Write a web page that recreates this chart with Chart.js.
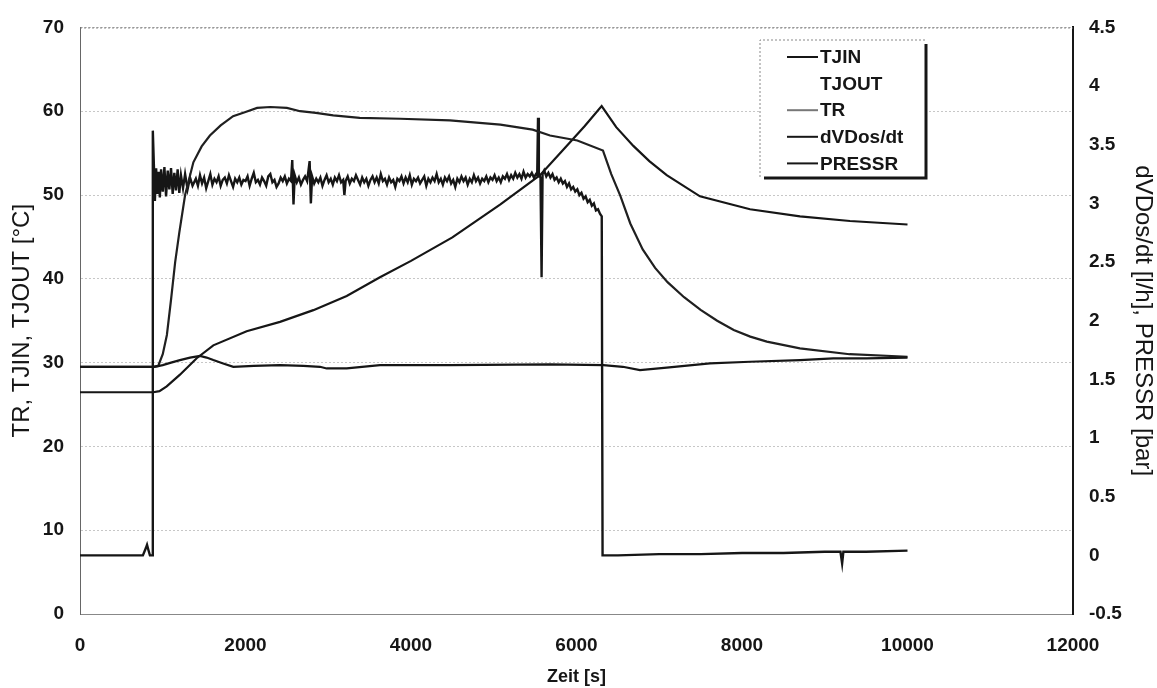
<!DOCTYPE html>
<html>
<head>
<meta charset="utf-8">
<script src="https://cdn.jsdelivr.net/npm/chart.js@4.4.1/dist/chart.umd.min.js"></script>
<style>
    html, body { margin: 0; padding: 0; background: #fff; }
    #chart-body { display: block; }
</style>
</head>
<body>
<canvas id="chart-body" width="1157" height="688"></canvas>
<script>
// Zeitachse in s, Temperaturen in °C, Dosierrate in l/h, Druck in bar

const tjinTime = [0, 900, 1000, 1100, 1208, 1330, 1450, 1530, 1611, 1730, 1853, 2100, 2417, 2700, 2900, 2981, 3223, 3625,
    4471, 5680, 6324, 6560, 6767, 7090, 7613, 8097, 8701, 9103, 9500, 10000];
const tjinValues = [29.5, 29.5, 29.7, 30.0, 30.3, 30.6, 30.8, 30.6, 30.3, 29.9, 29.5, 29.6, 29.7, 29.6, 29.5, 29.3, 29.3, 29.7,
    29.7, 29.8, 29.7, 29.5, 29.1, 29.4, 29.9, 30.1, 30.3, 30.5, 30.5, 30.6];

// TJOUT wurde nicht aufgezeichnet
const tjoutTime = [];
const tjoutValues = [];

const trTime = [0, 880, 945, 1000, 1050, 1100, 1150, 1200, 1270, 1370, 1470, 1570, 1700, 1850, 2000, 2140, 2300, 2500,
    2660, 2850, 3060, 3380, 3870, 4470, 5080, 5470, 5680, 6010, 6320, 6420, 6530, 6650, 6800, 6950, 7100, 7300, 7500,
    7700, 7900, 8100, 8300, 8700, 9300, 10000];
const trValues = [29.5, 29.5, 29.6, 31.0, 33.3, 37.5, 42.0, 45.5, 50.0, 53.9, 55.8, 57.1, 58.3, 59.4, 59.9, 60.4, 60.5, 60.4,
    60.0, 59.8, 59.5, 59.2, 59.1, 58.9, 58.4, 57.8, 57.1, 56.5, 55.3, 52.5, 49.9, 46.6, 43.5, 41.3, 39.6, 37.8, 36.3,
    35.0, 33.9, 33.1, 32.5, 31.7, 31.0, 30.7];

const dosTime = [
    0, 760, 795, 810, 825, 845, 872, 880, 895, 905,
    920, 935, 950, 965, 980, 1000, 1020, 1040, 1060, 1080,
    1100, 1120, 1140, 1160, 1180, 1200, 1220, 1245, 1270, 1300,
    1330, 1360, 1400, 1425, 1450, 1475, 1500, 1525, 1550, 1575,
    1600, 1625, 1650, 1675, 1700, 1725, 1750, 1775, 1800, 1825,
    1850, 1875, 1900, 1925, 1950, 1975, 2000, 2025, 2050, 2075,
    2100, 2125, 2150, 2175, 2200, 2225, 2250, 2275, 2300, 2325,
    2350, 2375, 2400, 2425, 2450, 2475, 2500, 2525, 2550, 2565,
    2580, 2595, 2620, 2645, 2670, 2695, 2720, 2745, 2775, 2790,
    2805, 2830, 2855, 2880, 2905, 2930, 2955, 2980, 3005, 3030,
    3055, 3080, 3105, 3130, 3155, 3180, 3195, 3210, 3235, 3260,
    3285, 3310, 3335, 3360, 3385, 3410, 3435, 3460, 3485, 3510,
    3535, 3560, 3585, 3610, 3635, 3660, 3685, 3710, 3735, 3760,
    3785, 3810, 3835, 3860, 3885, 3910, 3935, 3960, 3985, 4010,
    4035, 4060, 4085, 4110, 4135, 4160, 4185, 4210, 4235, 4260,
    4285, 4310, 4335, 4360, 4385, 4410, 4435, 4460, 4485, 4510,
    4535, 4560, 4585, 4610, 4635, 4660, 4685, 4710, 4735, 4760,
    4785, 4810, 4835, 4860, 4885, 4910, 4935, 4960, 4985, 5010,
    5035, 5060, 5085, 5110, 5135, 5160, 5185, 5210, 5235, 5260,
    5285, 5310, 5335, 5360, 5385, 5410, 5435, 5460, 5485, 5510,
    5525, 5535, 5545, 5565, 5578, 5590, 5610, 5635, 5660, 5685,
    5710, 5735, 5760, 5785, 5810, 5835, 5860, 5885, 5910, 5935,
    5960, 5985, 6010, 6035, 6060, 6085, 6110, 6135, 6160, 6185,
    6210, 6235, 6260, 6285, 6305, 6315, 6500, 7000, 7500, 8000,
    8500, 9000, 9190, 9210, 9225, 9500, 10000];
const dosRate = [
    0.00, 0.00, 0.06, 0.09, 0.05, 0.00, 0.00, 3.62, 3.28, 3.02,
    3.30, 3.08, 3.27, 3.05, 3.29, 3.10, 3.31, 3.06, 3.28, 3.12,
    3.30, 3.08, 3.26, 3.11, 3.29, 3.09, 3.24, 3.13, 3.25, 3.12,
    3.22, 3.15, 3.21, 3.15, 3.24, 3.17, 3.22, 3.13, 3.19, 3.25,
    3.16, 3.21, 3.18, 3.23, 3.15, 3.20, 3.22, 3.17, 3.24, 3.19,
    3.14, 3.21, 3.18, 3.22, 3.16, 3.20, 3.19, 3.23, 3.15, 3.21,
    3.26, 3.18, 3.20, 3.16, 3.22, 3.19, 3.15, 3.23, 3.25, 3.18,
    3.20, 3.14, 3.17, 3.22, 3.19, 3.23, 3.17, 3.21, 3.19, 3.37,
    2.99, 3.24, 3.18, 3.22, 3.16, 3.20, 3.23, 3.19, 3.36, 3.00,
    3.23, 3.17, 3.21, 3.18, 3.22, 3.15, 3.20, 3.24, 3.18, 3.21,
    3.16, 3.22, 3.19, 3.24, 3.18, 3.20, 3.07, 3.19, 3.23, 3.17,
    3.21, 3.19, 3.24, 3.20, 3.16, 3.22, 3.18, 3.21, 3.15, 3.20,
    3.23, 3.18, 3.22, 3.17, 3.25, 3.19, 3.21, 3.16, 3.22, 3.18,
    3.20, 3.14, 3.21, 3.19, 3.23, 3.17, 3.22, 3.18, 3.24, 3.16,
    3.21, 3.19, 3.22, 3.17, 3.20, 3.23, 3.15, 3.21, 3.18, 3.22,
    3.19, 3.25, 3.18, 3.21, 3.16, 3.22, 3.19, 3.23, 3.17, 3.20,
    3.14, 3.21, 3.18, 3.23, 3.19, 3.22, 3.16, 3.21, 3.18, 3.24,
    3.19, 3.22, 3.17, 3.21, 3.19, 3.23, 3.18, 3.22, 3.20, 3.24,
    3.19, 3.22, 3.18, 3.23, 3.21, 3.25, 3.20, 3.24, 3.21, 3.26,
    3.22, 3.25, 3.21, 3.27, 3.22, 3.25, 3.23, 3.26, 3.22, 3.25,
    3.24, 3.73, 3.24, 3.22, 2.37, 3.25, 3.28, 3.23, 3.26, 3.22,
    3.25, 3.20, 3.22, 3.18, 3.21, 3.17, 3.19, 3.14, 3.17, 3.12,
    3.14, 3.10, 3.12, 3.07, 3.09, 3.04, 3.06, 3.01, 3.03, 2.98,
    3.00, 2.94, 2.95, 2.91, 2.89, 0.00, 0.00, 0.01, 0.01, 0.02,
    0.02, 0.03, 0.03, -0.07, 0.03, 0.03, 0.04];

const pressTime = [0, 886, 960, 1048, 1208, 1410, 1611, 2014, 2417, 2820, 3223, 3625, 4000, 4500, 5076, 5559, 5881, 6100,
    6304, 6480, 6687, 6880, 7090, 7492, 8097, 8701, 9305, 10000];
const pressValues = [1.39, 1.39, 1.40, 1.44, 1.54, 1.68, 1.79, 1.91, 1.99, 2.09, 2.21, 2.37, 2.51, 2.71, 2.99, 3.24, 3.49,
    3.66, 3.83, 3.65, 3.49, 3.36, 3.24, 3.06, 2.95, 2.89, 2.85, 2.82];

const xTicks = { min: 0, max: 12000, step: 2000 };
const leftTicks = { min: 0, max: 70, step: 10 };
const rightTicks = { min: -0.5, max: 4.5, step: 0.5 };

const FONT = "'Liberation Sans', Arial, sans-serif";
const INK = '#161616';

function toPoints(times, values) {
    return times.map((t, i) => ({ x: t, y: values[i] }));
}

function plainNumber(value) {
    return String(parseFloat(value.toFixed(2)));
}

// Legende als Kasten mit Schatten rechts/unten im Diagramm
const legendBox = {
    id: 'legendBox',
    afterDraw(chart) {
        const ctx = chart.ctx;
        const left = 760, top = 40, right = 925, bottom = 177;
        ctx.save();
        ctx.fillStyle = '#fff';
        ctx.fillRect(left, top, right - left, bottom - top);
        ctx.strokeStyle = '#888';
        ctx.lineWidth = 1;
        ctx.setLineDash([2, 2]);
        ctx.beginPath();
        ctx.moveTo(left, bottom);
        ctx.lineTo(left, top);
        ctx.lineTo(right, top);
        ctx.stroke();
        ctx.setLineDash([]);
        ctx.strokeStyle = INK;
        ctx.lineWidth = 3;
        ctx.beginPath();
        ctx.moveTo(right + 1, top + 4);
        ctx.lineTo(right + 1, bottom + 1);
        ctx.lineTo(left + 4, bottom + 1);
        ctx.stroke();

        ctx.font = 'bold 19px ' + FONT;
        ctx.textBaseline = 'middle';
        ctx.fillStyle = INK;
        chart.data.datasets.forEach((ds, i) => {
            const y = 57 + i * 26.6;
            ctx.strokeStyle = ds.legendColor;
            ctx.lineWidth = 2;
            ctx.beginPath();
            ctx.moveTo(787, y);
            ctx.lineTo(818, y);
            ctx.stroke();
            ctx.fillText(ds.label, 820, y + 1);
        });
        ctx.restore();
    }
};

// obere Rahmenlinie des Plotbereichs
const frameTop = {
    id: 'frameTop',
    beforeDatasetsDraw(chart) {
        const { ctx, chartArea } = chart;
        ctx.save();
        ctx.strokeStyle = '#777';
        ctx.lineWidth = 1;
        ctx.setLineDash([2, 2]);
        ctx.beginPath();
        ctx.moveTo(chartArea.left, chartArea.top + 0.5);
        ctx.lineTo(chartArea.right, chartArea.top + 0.5);
        ctx.stroke();
        ctx.restore();
    }
};

function lineSet(label, data, axis, color, width) {
    return {
        label: label,
        data: data,
        yAxisID: axis,
        borderColor: color,
        legendColor: color,
        borderWidth: width,
        pointRadius: 0,
        tension: 0,
        fill: false
    };
}

window.chart = null;

function initializeChart() {
    const ctx = document.getElementById('chart-body').getContext('2d');
    const datasets = [
        lineSet('TJIN', toPoints(tjinTime, tjinValues), 'y', INK, 2.2),
        lineSet('TJOUT', toPoints(tjoutTime, tjoutValues), 'y', 'rgba(0,0,0,0)', 2),
        lineSet('TR', toPoints(trTime, trValues), 'y', '#202020', 2.2),
        lineSet('dVDos/dt', toPoints(dosTime, dosRate), 'y1', INK, 2.4),
        lineSet('PRESSR', toPoints(pressTime, pressValues), 'y1', INK, 2.2)
    ];
    datasets[2].legendColor = '#777';

    const tickFont = { family: FONT, size: 19, weight: 'bold' };
    const titleFont = { family: FONT, size: 24 };

    window.chart = new Chart(ctx, {
        type: 'line',
        data: { datasets: datasets },
        options: {
            responsive: false,
            animation: false,
            events: [],
            layout: { padding: { top: 24, right: 0, left: 0, bottom: 0 } },
            plugins: { legend: { display: false }, tooltip: { enabled: false } },
            scales: {
                x: {
                    type: 'linear',
                    min: xTicks.min,
                    max: xTicks.max,
                    ticks: { stepSize: xTicks.step, color: INK, font: tickFont, padding: 20, callback: plainNumber },
                    grid: { display: false, drawTicks: false },
                    border: { color: '#888', dash: [2, 2], width: 1 },
                    title: { display: true, text: 'Zeit [s]', color: INK, font: { family: FONT, size: 18, weight: 'bold' }, padding: { top: 0, bottom: 0 } },
                    afterFit(scale) { scale.height = 74; }
                },
                y: {
                    position: 'left',
                    min: leftTicks.min,
                    max: leftTicks.max,
                    ticks: { stepSize: leftTicks.step, color: INK, font: tickFont, padding: 16, callback: plainNumber },
                    grid: { color: 'rgba(0,0,0,0.22)', borderDash: [1, 6], drawTicks: false, lineWidth: 1 },
                    border: { color: '#666', dash: [2, 2], width: 1 },
                    title: { display: true, text: 'TR, TJIN, TJOUT [°C]', color: INK, font: titleFont, padding: { top: 8, bottom: 0 } },
                    afterFit(scale) { scale.width = 80; }
                },
                y1: {
                    position: 'right',
                    min: rightTicks.min,
                    max: rightTicks.max,
                    ticks: { stepSize: rightTicks.step, color: INK, font: tickFont, padding: 16, callback: plainNumber },
                    grid: { drawOnChartArea: false, drawTicks: false },
                    border: { color: INK, width: 2 },
                    title: { display: true, text: 'dVDos/dt [l/h], PRESSR [bar]', color: INK, font: titleFont, padding: { top: 0, bottom: 0 } },
                    afterFit(scale) { scale.width = 84; }
                }
            }
        },
        plugins: [frameTop, legendBox]
    });
}

initializeChart();
</script>
</body>
</html>
